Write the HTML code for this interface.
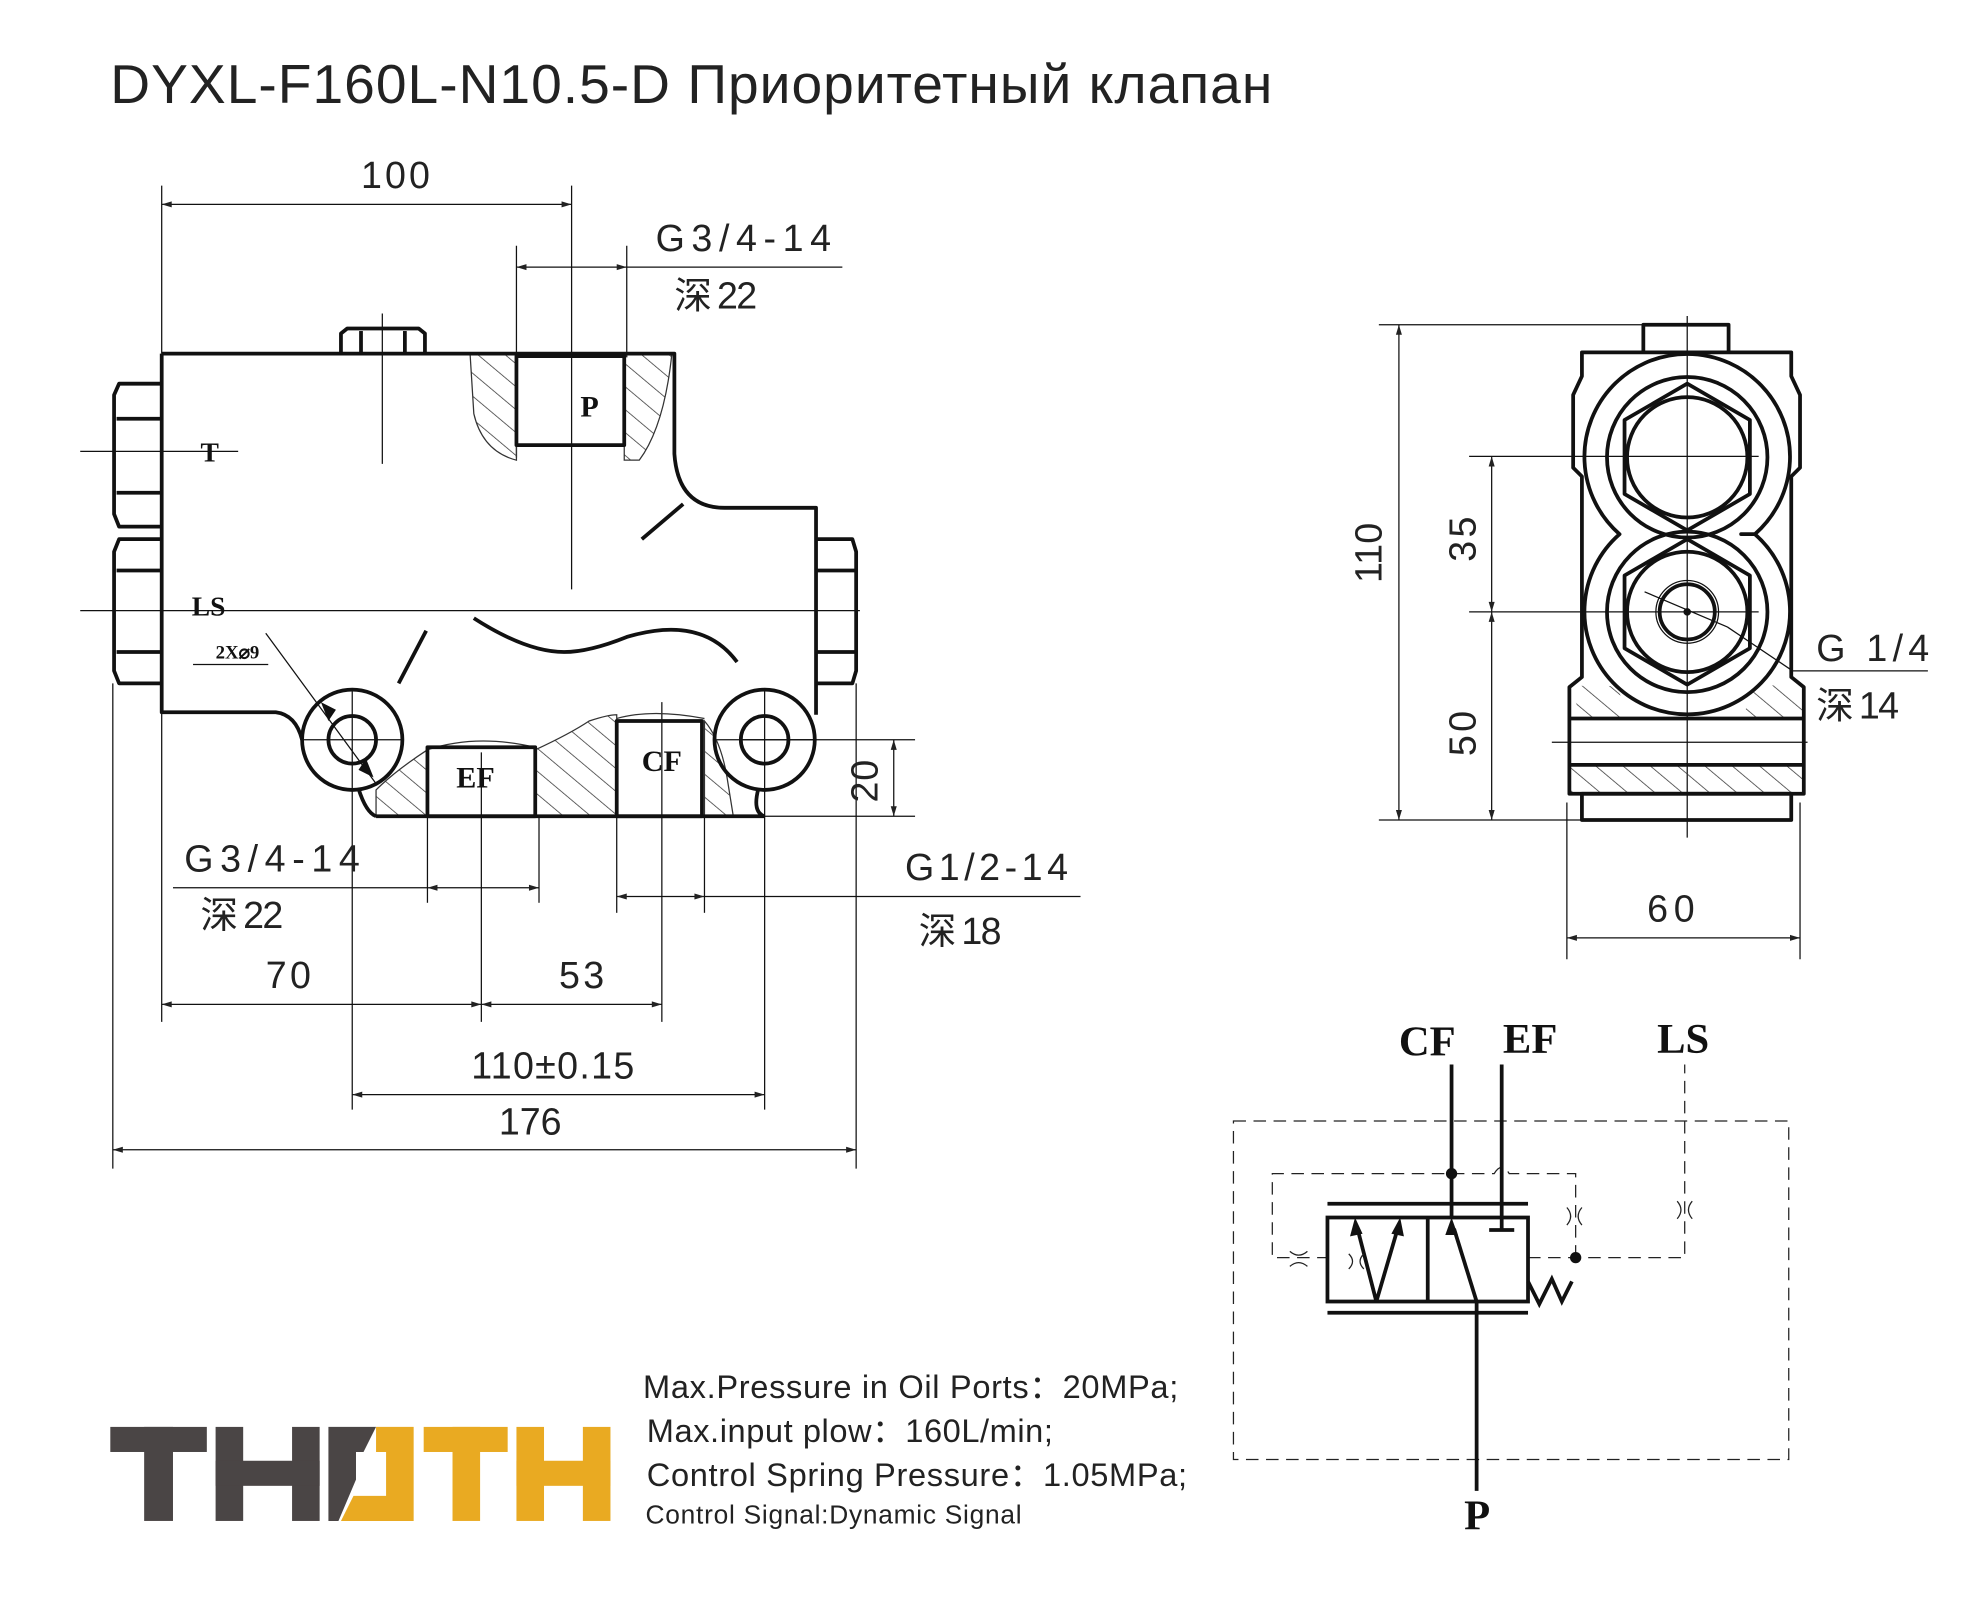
<!DOCTYPE html>
<html><head><meta charset="utf-8"><style>
html,body{margin:0;padding:0;background:#fff;}
svg{display:block;}
.t{font-family:"Liberation Sans","Noto Sans CJK SC",sans-serif;fill:#222;}
.d{font-family:"Liberation Sans","Noto Sans CJK SC",sans-serif;fill:#222;font-size:30px;}
.s{font-family:"Liberation Serif",serif;fill:#111;font-weight:bold;}
</style></head><body>
<svg width="1968" height="1620" viewBox="0 0 1570 1292" preserveAspectRatio="none" xmlns="http://www.w3.org/2000/svg">
<defs>
<pattern id="h" width="14" height="14" patternUnits="userSpaceOnUse" patternTransform="rotate(-50)">
<line x1="0" y1="0" x2="0" y2="14" stroke="#333" stroke-width="1.2"/>
</pattern>
<marker id="a" viewBox="0 0 10 10" refX="10" refY="5" markerWidth="14" markerHeight="8" orient="auto-start-reverse" markerUnits="userSpaceOnUse">
<path d="M0,2 L10,5 L0,8 z" fill="#222"/>
</marker>
</defs>
<rect width="1570" height="1292" fill="#fff"/>

<text class="t" x="88" y="82" font-size="44" textLength="927">DYXL-F160L-N10.5-D Приоритетный клапан</text>

<!-- FRONT VIEW -->
<g fill="none" stroke="#111" stroke-width="1">
<line x1="64" y1="360" x2="190" y2="360"/>
<line x1="64" y1="487" x2="686" y2="487"/>
<line x1="305" y1="250" x2="305" y2="370"/>
<line x1="129" y1="148" x2="129" y2="282"/>
<line x1="456" y1="148" x2="456" y2="470"/>
<line x1="412" y1="196" x2="412" y2="365"/>
<line x1="500" y1="196" x2="500" y2="285"/>
<line x1="129" y1="163" x2="456" y2="163" marker-start="url(#a)" marker-end="url(#a)"/>
<line x1="412" y1="213" x2="500" y2="213" marker-start="url(#a)" marker-end="url(#a)"/>
<line x1="500" y1="213" x2="672" y2="213"/>
<line x1="590" y1="590" x2="730" y2="590"/>
<line x1="560" y1="651" x2="730" y2="651"/>
<line x1="713" y1="590" x2="713" y2="651" marker-start="url(#a)" marker-end="url(#a)"/>
<line x1="341" y1="651" x2="341" y2="720"/>
<line x1="430" y1="651" x2="430" y2="720"/>
<line x1="138" y1="708" x2="341" y2="708"/>
<line x1="341" y1="708" x2="430" y2="708" marker-start="url(#a)" marker-end="url(#a)"/>
<line x1="492" y1="651" x2="492" y2="728"/>
<line x1="562" y1="651" x2="562" y2="728"/>
<line x1="492" y1="715" x2="562" y2="715" marker-start="url(#a)" marker-end="url(#a)"/>
<line x1="562" y1="715" x2="862" y2="715"/>
<line x1="129" y1="545" x2="129" y2="815"/>
<line x1="384" y1="600" x2="384" y2="815"/>
<line x1="528" y1="560" x2="528" y2="815"/>
<line x1="129" y1="801" x2="384" y2="801" marker-start="url(#a)" marker-end="url(#a)"/>
<line x1="384" y1="801" x2="528" y2="801" marker-start="url(#a)" marker-end="url(#a)"/>
<line x1="281" y1="550" x2="281" y2="885"/>
<line x1="610" y1="550" x2="610" y2="885"/>
<line x1="281" y1="873" x2="610" y2="873" marker-start="url(#a)" marker-end="url(#a)"/>
<line x1="90" y1="545" x2="90" y2="932"/>
<line x1="683" y1="545" x2="683" y2="932"/>
<line x1="90" y1="917" x2="683" y2="917" marker-start="url(#a)" marker-end="url(#a)"/>
<line x1="240" y1="590" x2="322" y2="590"/>
<line x1="570" y1="590" x2="650" y2="590"/>
<line x1="154" y1="530" x2="214" y2="530"/>
<line x1="212" y1="505" x2="300" y2="625"/>
</g>

<path d="M375,282 H412 V367 Q385,360 378,330 Z" fill="url(#h)" stroke="#333" stroke-width="1"/>
<path d="M498,282 H536 Q530,340 510,367 H498 Z" fill="url(#h)" stroke="#333" stroke-width="1"/>
<path d="M300,651 L300,630 Q315,615 341,598 V651 Z" fill="url(#h)" stroke="#333" stroke-width="1"/>
<path d="M427,598 Q455,585 470,575 Q485,570 492,570 V651 H427 Z" fill="url(#h)" stroke="#333" stroke-width="1"/>
<path d="M562,575 Q575,590 580,620 L585,651 H562 Z" fill="url(#h)" stroke="#333" stroke-width="1"/>
<path d="M341,598 Q380,585 427,596" fill="none" stroke="#333" stroke-width="1"/>
<path d="M492,573 Q520,565 562,573" fill="none" stroke="#333" stroke-width="1"/>

<g fill="none" stroke="#111" stroke-width="3" stroke-linejoin="round">
<path d="M129,282 H538 V362 Q541,405 578,405 H651 V570"/>
<path d="M129,282 V568 H220 Q236,570 241,590"/>
<path d="M300,651 H610"/>
<circle cx="281" cy="590" r="40"/>
<circle cx="281" cy="590" r="19"/>
<circle cx="610" cy="590" r="40"/>
<circle cx="610" cy="590" r="19"/>
<path d="M286,629 Q292,648 300,651"/>
<path d="M605,629 Q600,648 610,651"/>
<rect x="412" y="284" width="86" height="71"/>
<rect x="341" y="596" width="86" height="55"/>
<rect x="492" y="575" width="68" height="76"/>
<path d="M272,282 V266 L277,262 H334 L339,266 V282"/>
<line x1="288" y1="264" x2="288" y2="282"/>
<line x1="323" y1="264" x2="323" y2="282"/>
<path d="M129,306 H95 L91,315 V410 L95,420 H129"/>
<line x1="93" y1="334" x2="129" y2="334"/><line x1="93" y1="393" x2="129" y2="393"/>
<path d="M129,430 H95 L91,440 V535 L95,545 H129"/>
<line x1="93" y1="455" x2="129" y2="455"/><line x1="93" y1="520" x2="129" y2="520"/>
<path d="M652,430 H680 L683,440 V535 L680,545 H652"/>
<line x1="652" y1="455" x2="682" y2="455"/><line x1="652" y1="520" x2="682" y2="520"/>
<line x1="512" y1="430" x2="545" y2="402"/>
<line x1="318" y1="545" x2="340" y2="503"/>
<path d="M378,493 Q420,520 450,520 Q470,520 500,508 Q560,490 588,528"/>
</g>
<path d="M256,560 L262,575 L268,566 Z M298,620 L292,605 L286,614 Z" fill="#111"/>

<text class="s" x="463" y="332" font-size="24" font-weight="normal">P</text>
<text class="s" x="160" y="368" font-size="22">T</text>
<text class="s" x="153" y="491" font-size="22">LS</text>
<text class="s" x="172" y="525" font-size="15">2X⌀9</text>
<text class="s" x="364" y="628" font-size="24">EF</text>
<text class="s" x="512" y="615" font-size="24">CF</text>

<text class="d" x="288" y="150" textLength="55">100</text>
<text class="d" x="523" y="200" textLength="140">G3/4-14</text>
<text class="d" x="538" y="246" font-size="22">深</text><text class="d" x="572" y="246" textLength="32">22</text>
<text class="d" transform="translate(700,640) rotate(-90)" textLength="34">20</text>
<text class="d" x="147" y="695" textLength="140">G3/4-14</text>
<text class="d" x="160" y="740" font-size="22">深</text><text class="d" x="194" y="740" textLength="32">22</text>
<text class="d" x="722" y="702" textLength="130">G1/2-14</text>
<text class="d" x="733" y="753" font-size="22">深</text><text class="d" x="767" y="753" textLength="32">18</text>
<text class="d" x="212" y="788" textLength="36">70</text>
<text class="d" x="446" y="788" textLength="36">53</text>
<text class="d" x="376" y="860" textLength="130">110±0.15</text>
<text class="d" x="398" y="905" textLength="50">176</text>

<!-- SIDE VIEW -->
<g fill="none" stroke="#111" stroke-width="1">
<line x1="1100" y1="259" x2="1311" y2="259"/>
<line x1="1100" y1="654" x2="1262" y2="654"/>
<line x1="1116" y1="259" x2="1116" y2="654" marker-start="url(#a)" marker-end="url(#a)"/>
<line x1="1172" y1="364" x2="1403" y2="364"/>
<line x1="1172" y1="488" x2="1403" y2="488"/>
<line x1="1190" y1="364" x2="1190" y2="488" marker-start="url(#a)" marker-end="url(#a)"/>
<line x1="1190" y1="488" x2="1190" y2="654" marker-start="url(#a)" marker-end="url(#a)"/>
<line x1="1250" y1="640" x2="1250" y2="765"/>
<line x1="1436" y1="640" x2="1436" y2="765"/>
<line x1="1250" y1="748" x2="1436" y2="748" marker-start="url(#a)" marker-end="url(#a)"/>
<line x1="1346" y1="252" x2="1346" y2="668"/>
<line x1="1238" y1="592" x2="1442" y2="592"/>
<line x1="1312" y1="472" x2="1378" y2="500"/>
<line x1="1378" y1="500" x2="1430" y2="535"/>
<line x1="1430" y1="535" x2="1538" y2="535"/>
</g>
<path d="M1252,548 Q1275,545 1290,548 L1300,572 H1262 Z M1400,548 Q1420,545 1439,548 V572 H1390 Z" fill="url(#h)"/>
<rect x="1252" y="610" width="187" height="23" fill="url(#h)"/>
<g fill="none" stroke="#111" stroke-width="3" stroke-linejoin="round">
<path d="M1311,281 V259 H1379 V281"/>
<path d="M1262,281 H1429 V300 L1436,315 V373 L1429,380 V540 L1439,548 V633 H1252 V548 L1262,540 V380 L1255,373 V315 L1262,300 Z"/>
<line x1="1252" y1="573" x2="1439" y2="573"/>
<line x1="1252" y1="610" x2="1439" y2="610"/>
<rect x="1262" y="633" width="167" height="21"/>
<path d="M1292,426 A82,82 0 1 1 1400,426 Q1378,426 1400,426 A82,82 0 1 1 1292,426 Z"/>
<circle cx="1346" cy="364.7" r="64"/>
<circle cx="1346" cy="488" r="64"/>
<polygon points="1346,306 1396,335 1396,394 1346,423 1296,394 1296,335"/>
<polygon points="1346,430 1396,459 1396,517 1346,546 1296,517 1296,459"/>
<circle cx="1346" cy="364.7" r="48"/>
<circle cx="1346" cy="488" r="48"/>
<circle cx="1346" cy="488" r="22"/>
</g>
<circle cx="1346" cy="488" r="25" fill="none" stroke="#111" stroke-width="1"/>
<circle cx="1346" cy="488" r="3" fill="#111"/>
<text class="d" transform="translate(1102,465) rotate(-90)" textLength="48">110</text>
<text class="d" transform="translate(1177,448) rotate(-90)" textLength="36">35</text>
<text class="d" transform="translate(1177,603) rotate(-90)" textLength="36">50</text>
<text class="d" x="1314" y="735" textLength="38">60</text>
<text class="d" x="1449" y="527" textLength="90">G 1/4</text>
<text class="d" x="1449" y="573" font-size="22">深</text><text class="d" x="1483" y="573" textLength="32">14</text>

<!-- SCHEMATIC -->
<g fill="none" stroke="#222" stroke-width="1" stroke-dasharray="10,6">
<rect x="984" y="894" width="443" height="270"/>
<path d="M1257,1003 V936 H1204 Q1198,926 1192,936 H1015 V1003 H1059"/>
<path d="M1219,1003 H1344 V849"/>
</g>
<g fill="none" stroke="#111" stroke-width="3">
<line x1="1158" y1="849" x2="1158" y2="971"/>
<line x1="1198" y1="849" x2="1198" y2="981"/>
<line x1="1188" y1="981" x2="1208" y2="981"/>
<line x1="1178" y1="1038" x2="1178" y2="1189"/>
<line x1="1059" y1="960" x2="1219" y2="960"/>
<line x1="1059" y1="1047" x2="1219" y2="1047"/>
<rect x="1059" y="971" width="160" height="67"/>
<line x1="1139" y1="971" x2="1139" y2="1038"/>
<line x1="1178" y1="1038" x2="1160" y2="980"/>
<line x1="1098" y1="1038" x2="1083" y2="980"/>
<line x1="1098" y1="1038" x2="1115" y2="980"/>
<path d="M1219,1022 L1228,1040 L1238,1020 L1246,1038 L1254,1022"/>
</g>
<path d="M1158,971 L1153,985 L1163,985 Z M1081,971 L1077,986 L1087,984 Z M1117,971 L1110,984 L1120,986 Z" fill="#111"/>
<circle cx="1158" cy="936" r="4.5" fill="#111"/>
<circle cx="1257" cy="1003" r="4.5" fill="#111"/>
<g fill="none" stroke="#222" stroke-width="1">
<path d="M1250,963 Q1256,970 1250,977 M1262,963 Q1256,970 1262,977"/>
<path d="M1338,958 Q1344,965 1338,972 M1350,958 Q1344,965 1350,972"/>
<path d="M1029,998 Q1036,1004 1043,998 M1029,1010 Q1036,1004 1043,1010"/>
<path d="M1076,1000 Q1082,1006 1076,1012 M1088,1000 Q1082,1006 1088,1012"/>
</g>
<text class="s" x="1116" y="842" font-size="34" font-weight="normal">CF</text>
<text class="s" x="1199" y="840" font-size="34" font-weight="normal">EF</text>
<text class="s" x="1322" y="840" font-size="34" font-weight="normal">LS</text>
<text class="s" x="1168" y="1220" font-size="34" font-weight="normal">P</text>

<!-- LOGO -->
<g fill="#4a4545">
<rect x="88" y="1138" width="77" height="20"/>
<rect x="115" y="1138" width="23" height="75"/>
<rect x="172" y="1138" width="22" height="75"/>
<rect x="233" y="1138" width="22" height="75"/>
<rect x="172" y="1165" width="83" height="20"/>
<path d="M262,1138 H300 L290,1158 H284 V1180 L270,1213 H262 Z"/>
</g>
<g fill="#e9aa22">
<path d="M300,1138 H330 V1213 H272 L282,1193 H308 V1158 H300 Z"/>
<rect x="338" y="1138" width="67" height="20"/>
<rect x="361" y="1138" width="22" height="75"/>
<rect x="412" y="1138" width="22" height="75"/>
<rect x="465" y="1138" width="22" height="75"/>
<rect x="412" y="1165" width="75" height="20"/>
</g>

<text class="t" x="513" y="1115" font-size="26" textLength="427">Max.Pressure in Oil Ports：20MPa;</text>
<text class="t" x="516" y="1150" font-size="26" textLength="324">Max.input plow：160L/min;</text>
<text class="t" x="516" y="1185" font-size="26" textLength="431">Control Spring Pressure：1.05MPa;</text>
<text class="t" x="515" y="1215" font-size="21" textLength="300">Control Signal:Dynamic Signal</text>
</svg>
</body></html>
